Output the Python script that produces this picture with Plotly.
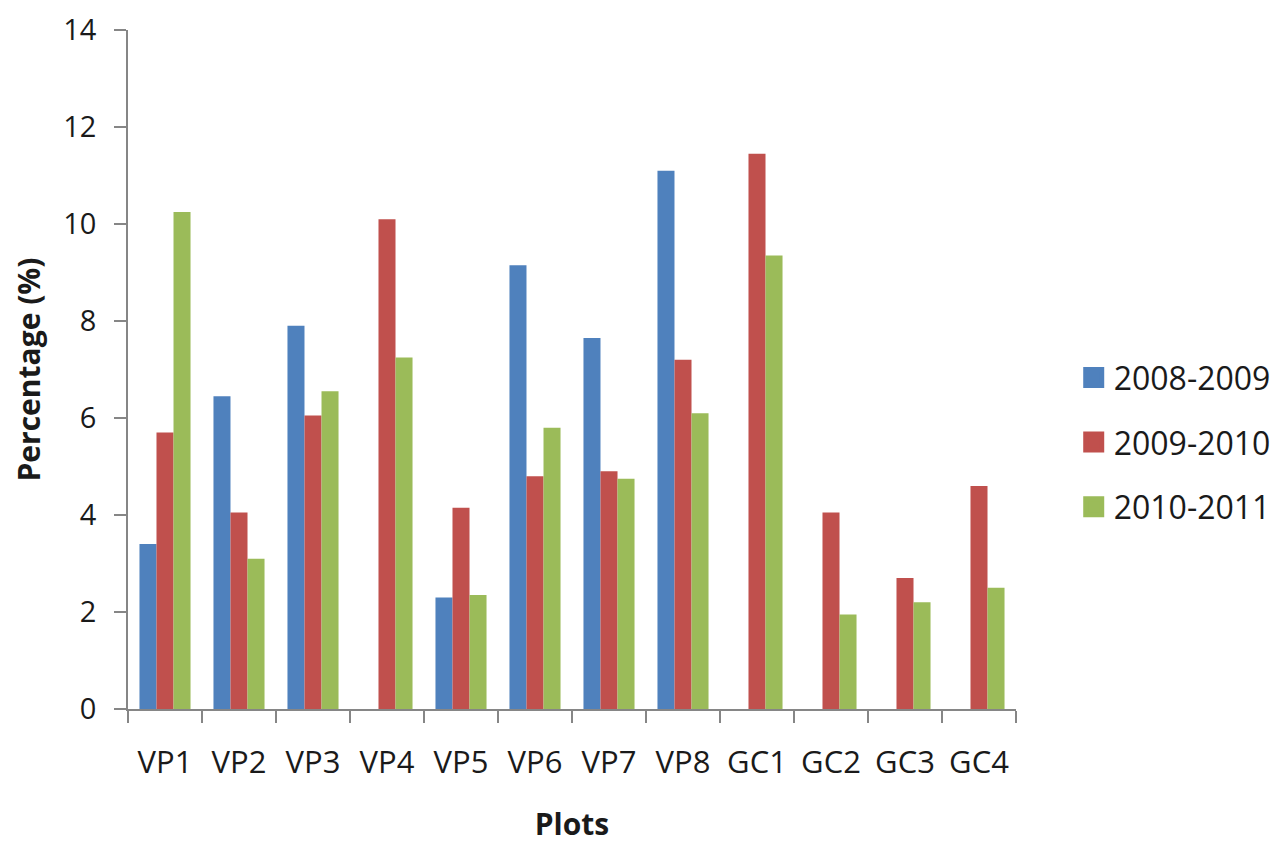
import plotly.graph_objects as go

categories = ["VP1", "VP2", "VP3", "VP4", "VP5", "VP6", "VP7", "VP8", "GC1", "GC2", "GC3", "GC4"]
series_names = ["2008-2009", "2009-2010", "2010-2011"]
s2008 = [3.4, 6.45, 7.9, None, 2.3, 9.15, 7.65, 11.1, None, None, None, None]
s2009 = [5.7, 4.05, 6.05, 10.1, 4.15, 4.8, 4.9, 7.2, 11.45, 4.05, 2.7, 4.6]
s2010 = [10.25, 3.1, 6.55, 7.25, 2.35, 5.8, 4.75, 6.1, 9.35, 1.95, 2.2, 2.5]
colors = ["#4F81BD", "#C0504D", "#9BBB59"]
y_ticks = [0, 2, 4, 6, 8, 10, 12, 14]

FONT = "Open Sans"
TXT = "#1a1a1a"
fig = go.Figure()
for name, vals, col in zip(series_names, [s2008, s2009, s2010], colors):
    fig.add_trace(go.Bar(x=categories, y=vals, name=name, marker_color=col,
                         marker_line_width=0, showlegend=False))
    fig.add_trace(go.Scatter(x=[None], y=[None], mode="markers", name=name,
                             legendgroup=name,
                             marker=dict(symbol="square", size=16, color=col,
                                         line=dict(color=col, width=5))))

axis_col = "#868686"
fig.update_layout(
    width=1280, height=836,
    margin=dict(l=120, r=270, t=22, b=135),
    paper_bgcolor="white", plot_bgcolor="white",
    barmode="group", bargap=0.31, bargroupgap=0,
    font=dict(family=FONT, color=TXT, size=31),
    legend=dict(x=1.065, xanchor="left", y=0.393, yanchor="middle",
                font=dict(size=32, color=TXT), tracegroupgap=20,
                itemsizing="trace"),
    xaxis=dict(showline=True, linecolor=axis_col, linewidth=1.5,
               ticks="outside", ticklen=12, tickcolor=axis_col, tickwidth=1.5,
               tickson="boundaries", showgrid=False, automargin=False,
               ticklabelstandoff=25,
               tickfont=dict(size=31, color=TXT),
               title=dict(text="<b>Plots</b>", font=dict(size=30), standoff=33)),
    yaxis=dict(range=[0, 14], tickvals=y_ticks, showline=True, linecolor=axis_col,
               linewidth=1.5, ticks="outside", ticklen=12, tickcolor=axis_col,
               tickwidth=1.5, showgrid=False, zeroline=False, automargin=False,
               ticklabelstandoff=12, ticklabeloverflow="allow",
               tickfont=dict(size=29, color=TXT),
               title=dict(text="<b>Percentage (%)</b>", font=dict(size=30), standoff=27)),
)
fig.write_html("out.html")
